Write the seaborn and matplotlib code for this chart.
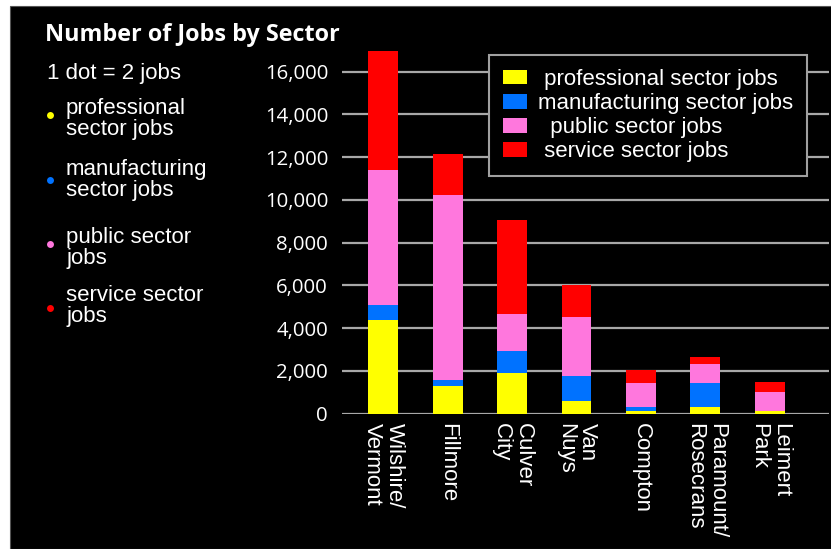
#%%
import numpy as np
import pandas as pd
import seaborn as sns
import matplotlib.pyplot as plt
from matplotlib.patches import Patch, Rectangle
from matplotlib.lines import Line2D

#--Data
places = ['Wilshire/\nVermont', 'Fillmore', 'Culver\nCity', 'Van\nNuys',
          'Compton', 'Paramount/\nRosecrans', 'Leimert\nPark']
professional = [4380, 1300, 1900, 590, 130, 310, 130]
manufacturing = [700, 280, 1030, 1170, 180, 1120, 0]
public = [6300, 8640, 1730, 2760, 1120, 890, 880]
service = [5570, 1920, 4390, 1490, 610, 330, 470]

legend_labels = [' professional sector jobs', 'manufacturing sector jobs',
                 '  public sector jobs', ' service sector jobs']
side_labels = ['professional\nsector jobs', 'manufacturing\nsector jobs',
               'public sector\njobs', 'service sector\njobs']
colors = ['#FFFF00', '#0072FF', '#FF77DD', '#FF0000']
yticks = [0, 2000, 4000, 6000, 8000, 10000, 12000, 14000, 16000]

#%%
#--Stack up the layers
df = pd.DataFrame({'place': places, 'professional': professional,
                   'manufacturing': manufacturing, 'public': public,
                   'service': service})
layers = ['professional', 'manufacturing', 'public', 'service']
cum = df[layers].cumsum(axis=1)

#%%
#--Figure
sns.set_style('dark')
plt.rcParams['font.family'] = ['Liberation Sans', 'DejaVu Sans']

fig = plt.figure(figsize=(8.31, 5.49), dpi=100, facecolor='white')
fig.patches.append(Rectangle((10 / 831, 0), 1, 1 - 6 / 549, transform=fig.transFigure,
                             facecolor='black', edgecolor='#555555', lw=0.8, zorder=-10))

ax = fig.add_axes([342 / 831, 1 - 413.7 / 549, (829 - 342) / 831, (413.7 - 50.3) / 549])
ax.set_facecolor('black')

# draw tallest layer first so each lower layer sits on top of it
for i in range(len(layers) - 1, -1, -1):
    sns.barplot(x=df['place'], y=cum[layers[i]], color=colors[i], width=0.465,
                saturation=1, ax=ax, zorder=3, edgecolor='none', linewidth=0)

ax.set_xlim(-0.636, 6.915)
ax.set_ylim(0, 17000)
ax.set_yticks(yticks)
ax.set_yticklabels([f'{v:,}' for v in yticks], family=['Open Sans', 'DejaVu Sans'],
                   fontsize=14.7, color='white')
ax.set_xticks(range(len(places)))
ax.set_xticklabels(places, rotation=-90, va='top', ha='center', multialignment='left',
                   fontsize=16, color='white', linespacing=1.05)
ax.tick_params(axis='both', length=0)
ax.tick_params(axis='y', pad=10)
ax.tick_params(axis='x', pad=7)
ax.set_xlabel('')
ax.set_ylabel('')
ax.yaxis.grid(True, color='#a8a8a8', lw=1.6)
ax.xaxis.grid(False)
ax.set_axisbelow(True)
for s in ax.spines.values():
    s.set_visible(False)

handles = [Patch(facecolor=c, edgecolor='none') for c in colors]
leg = ax.legend(handles, legend_labels, loc='upper left', bbox_to_anchor=(489 / 831, 1 - 55 / 549),
                bbox_transform=fig.transFigure, borderaxespad=0, fontsize=16,
                frameon=True, fancybox=False, facecolor='black', edgecolor='#a0a0a0',
                framealpha=1, handlelength=1.1, handleheight=0.65, handletextpad=0.5,
                labelspacing=0.14, borderpad=0.62)
leg.get_frame().set_linewidth(1.5)
for t in leg.get_texts():
    t.set_color('white')

#%%
#--Left side panel text
fig.text(45 / 831, 1 - 35 / 549, 'Number of Jobs by Sector', color='white', fontsize=16.8,
         fontweight='bold', family=['Open Sans', 'DejaVu Sans'], va='center', ha='left')
fig.text(47 / 831, 1 - 74 / 549, '1 dot = 2 jobs', color='white', fontsize=16,
         va='center', ha='left')
dot_y = [115, 180, 244, 308]
text_y = [119, 180, 248, 306]
for lab, c, dy, ty in zip(side_labels, colors, dot_y, text_y):
    fig.add_artist(Line2D([50 / 831], [1 - dy / 549], marker='o', markersize=5,
                          color=c, markeredgewidth=0, transform=fig.transFigure))
    fig.text(66 / 831, 1 - ty / 549, lab, color='white', fontsize=16, va='center',
             ha='left', linespacing=0.95)

plt.savefig('out.png', dpi=100, facecolor=fig.get_facecolor())
plt.close()
